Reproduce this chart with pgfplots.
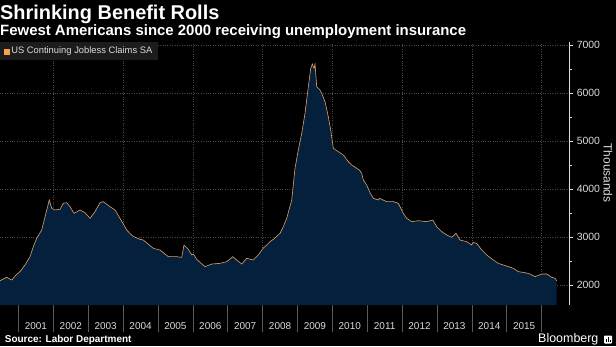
\documentclass[border=0pt]{standalone}
\usepackage{fontspec}
\setmainfont{Liberation Sans}
\usepackage{pgfplots}
\usepackage{pgfplotstable}
\pgfplotsset{compat=1.18}
\definecolor{navy}{HTML}{04203D}
\definecolor{lineor}{HTML}{E2A062}
\definecolor{legor}{HTML}{F7A24A}
\definecolor{gridc}{HTML}{4A4A4A}
\definecolor{txt}{HTML}{DCDCDC}
\definecolor{tickc}{HTML}{5A5A5A}
\definecolor{legbg}{HTML}{1C1C1C}

\pgfplotstableread{
year value
2000.469 2090
2000.662 2160
2000.805 2104
2000.928 2208
2001.043 2278
2001.186 2417
2001.330 2590
2001.424 2799
2001.522 2972
2001.665 3146
2001.809 3563
2001.883 3771
2001.952 3597
2002.047 3563
2002.190 3577
2002.285 3702
2002.382 3716
2002.477 3632
2002.592 3493
2002.764 3563
2002.907 3507
2003.051 3389
2003.194 3528
2003.337 3716
2003.432 3736
2003.624 3632
2003.767 3563
2003.911 3389
2004.103 3146
2004.200 3070
2004.292 3010
2004.484 2951
2004.579 2937
2004.866 2764
2005.058 2729
2005.296 2590
2005.537 2590
2005.680 2576
2005.746 2833
2005.870 2743
2005.967 2625
2006.015 2646
2006.110 2535
2006.348 2382
2006.541 2437
2006.779 2451
2006.971 2486
2007.143 2590
2007.257 2521
2007.401 2437
2007.544 2556
2007.734 2521
2007.877 2625
2008.020 2770
2008.118 2833
2008.212 2903
2008.307 2951
2008.499 3076
2008.594 3215
2008.691 3389
2008.835 3771
2008.929 4431
2009.024 4813
2009.122 5160
2009.216 5576
2009.311 6132
2009.380 6514
2009.426 6604
2009.475 6514
2009.503 6604
2009.552 6132
2009.646 6063
2009.695 5993
2009.790 5819
2009.884 5507
2009.953 5229
2010.028 4847
2010.171 4778
2010.315 4708
2010.458 4569
2010.555 4500
2010.699 4431
2010.775 4396
2010.842 4326
2010.888 4188
2010.986 4080
2011.080 3925
2011.175 3806
2011.318 3771
2011.350 3806
2011.559 3736
2011.749 3736
2011.892 3702
2011.941 3632
2012.035 3493
2012.133 3389
2012.276 3319
2012.466 3340
2012.706 3319
2012.878 3354
2012.993 3215
2013.137 3111
2013.280 3042
2013.423 2993
2013.547 3076
2013.661 2937
2013.853 2903
2013.995 2833
2014.043 2885
2014.140 2868
2014.284 2729
2014.427 2625
2014.616 2521
2014.760 2451
2014.903 2417
2015.047 2382
2015.190 2347
2015.333 2278
2015.525 2257
2015.669 2229
2015.812 2174
2016.004 2229
2016.148 2229
2016.291 2160
2016.386 2140
2016.434 2090
}\claims

\begin{document}
\begin{tikzpicture}[x=1bp,y=1bp]
\fill[black] (0,0) rectangle (616,346);
\begin{axis}[
  at={(0bp,41bp)}, anchor=south west,
  scale only axis, width=569bp, height=263bp,
  xmin=2000.469, xmax=2016.787,
  ymin=1583.3, ymax=7062.5,
  axis x line*=bottom, axis y line*=right,
  x axis line style={draw=none},
  y axis line style={txt, line width=0.6pt},
  xtick={2001,2002,2003,2004,2005,2006,2007,2008,2009,2010,2011,2012,2013,2014,2015,2016},
  x tick label as interval,
  xticklabels={2001,2002,2003,2004,2005,2006,2007,2008,2009,2010,2011,2012,2013,2014,2015},
  x tick style={tickc, line width=0.5pt},
  x tick label style={font=\fontsize{10}{12}\selectfont, text=txt, yshift=-10bp},
  xtick align=outside,
  x tick style={/pgfplots/major tick length=27bp},
  ytick={2000,3000,4000,5000,6000,7000},
  minor y tick num=1,
  ytick align=outside,
  y tick style={txt, line width=0.5pt},
  y tick label style={font=\fontsize{10.5}{12}\selectfont, text=txt},
  yticklabel style={/pgf/number format/1000 sep={}, /pgf/number format/assume math mode=true},
  ymajorgrids,
  extra x ticks={2002,2004,2006,2008,2010,2012,2014,2016},
  extra x tick labels={},
  extra x tick style={grid=major, major tick length=0pt},
  major grid style={gridc, dotted, line width=0.5pt},
  legend style={at={(0,1)}, anchor=north west, fill=legbg, draw=none,
    font=\fontsize{9.4}{10}\selectfont, text=txt, inner xsep=3.5bp, inner ysep=3bp},
  legend image code/.code={\fill[legor] (0bp,-2.5bp) rectangle (5bp,2.5bp);},
]
\addplot[fill=navy, draw=none, forget plot] table[x=year,y=value] {\claims} \closedcycle;
\addplot[lineor, line width=0.6pt] table[x=year,y=value] {\claims};
\addlegendentry{US Continuing Jobless Claims SA}
\end{axis}
\node[anchor=base west, inner sep=0, text=white, font=\fontsize{20}{22}\selectfont\bfseries] at (0,326.5) {Shrinking Benefit Rolls};
\node[anchor=base west, inner sep=0, text=white, font=\fontsize{15}{17}\selectfont\bfseries] at (0,311) {Fewest Americans since 2000 receiving unemployment insurance};
\node[anchor=base west, inner sep=0, text=white, font=\fontsize{10}{12}\selectfont\bfseries] at (4.7,3.3) {Source: Labor Department};
\node[anchor=base west, inner sep=0, text=white, font=\fontsize{12.5}{14}\selectfont] at (538,3.7) {Bloomberg};
\fill[white, rounded corners=0.8bp] (604,2.5) rectangle (612,10.5);
\fill[black] (605.5,4) rectangle (606.5,7);
\fill[black] (607.5,4) rectangle (608.5,9);
\fill[black] (609.5,4) rectangle (610.5,6);
\node[rotate=-90, inner sep=0, text=txt, font=\fontsize{12}{14}\selectfont] at (608,173) {Thousands};
\pgfresetboundingbox
\useasboundingbox (0,0) rectangle (616,346);
\end{tikzpicture}
\end{document}
